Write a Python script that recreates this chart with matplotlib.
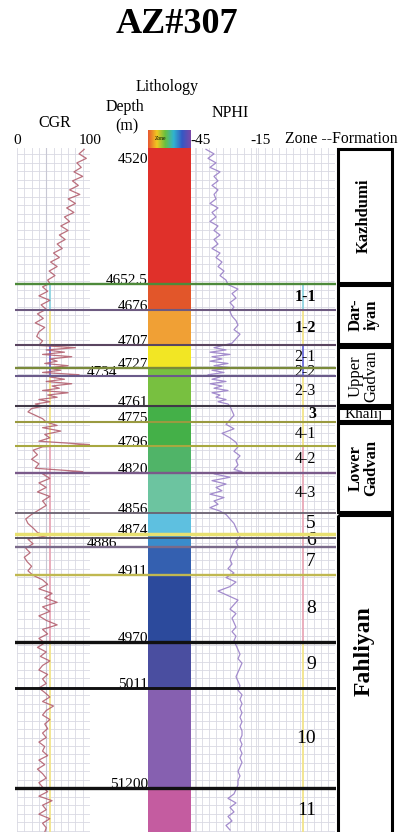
import numpy as np
import matplotlib.pyplot as plt
from matplotlib.patches import Rectangle
from matplotlib.colors import LinearSegmentedColormap
from matplotlib.ticker import MultipleLocator
from matplotlib import transforms

plt.rcParams['font.family'] = ['Liberation Serif', 'DejaVu Serif']

well_name = 'AZ#307'

# depth window shown (m)
top_depth = 4531.8
base_depth = 5138.8

# zone tops (m) and the depth text written next to each
bound_depth = [4652.5, 4676, 4707, 4727, 4734, 4761, 4775, 4796, 4820,
               4856, 4874, 4886, 4911, 4970, 5011, 5100]
bound_label = ['4652.5', '4676', '4707', '4727', '4734', '4761', '4775', '4796', '4820',
               '4856', '4874', '4886', '4911', '4970', '5011', '51200']
zone_names = ['1-1', '1-2', '2-1', '2-2', '2-3', '3', '4-1', '4-2', '4-3',
              '5', '6', '7', '8', '9', '10', '11']
bold_zones = ['1-1', '1-2', '3']

# formations
form_names = ['Kazhdumi', 'Dar-\niyan', 'Upper\nGadvan', 'Khalij', 'Lower\nGadvan', 'Fahliyan']
form_top = [4520, 4652.5, 4707, 4761, 4775, 4856]
form_base = [4652.5, 4707, 4761, 4775, 4856, 5100]

# CGR log (API)
cgr_depth = [4533, 4537, 4541, 4545, 4549, 4553, 4557, 4561, 4565, 4569, 4573, 4577, 4581, 4585,
             4589, 4593, 4597, 4601, 4605, 4609, 4613, 4617, 4621, 4625, 4629, 4633, 4637, 4641,
             4645, 4649, 4652, 4655, 4659, 4663, 4667, 4671, 4675, 4679, 4683, 4687, 4691, 4695,
             4699, 4703, 4707, 4709, 4711, 4713, 4715, 4717, 4719, 4721, 4723, 4725, 4727, 4729,
             4731, 4733, 4735, 4737, 4739, 4741, 4743, 4745, 4747, 4749, 4751, 4753, 4755, 4757,
             4759, 4761, 4763, 4766, 4769, 4772, 4775, 4778, 4780, 4783, 4786, 4789, 4792, 4795,
             4797, 4800, 4804, 4808, 4812, 4816, 4819, 4821, 4825, 4829, 4833, 4837, 4841, 4845,
             4849, 4853, 4857, 4861, 4865, 4869, 4873, 4876, 4879, 4883, 4887, 4891, 4895, 4899,
             4903, 4907, 4911, 4915, 4919, 4923, 4927, 4931, 4935, 4939, 4943, 4947, 4951, 4955,
             4959, 4963, 4967, 4971, 4975, 4979, 4983, 4987, 4991, 4995, 4999, 5003, 5007, 5011,
             5015, 5019, 5023, 5027, 5031, 5035, 5039, 5043, 5047, 5051, 5055, 5059, 5063, 5067,
             5071, 5075, 5079, 5083, 5087, 5091, 5095, 5099, 5103, 5107, 5111, 5115, 5119, 5123,
             5127, 5131, 5135, 5139]
cgr_value = [92, 85, 95, 82, 88, 78, 90, 76, 84, 72, 86, 70, 80, 68,
             78, 65, 72, 60, 70, 58, 66, 55, 62, 50, 58, 46, 55, 44,
             52, 42, 45, 35, 42, 30, 45, 33, 40, 28, 36, 25, 38, 30,
             27, 35, 30, 80, 40, 65, 35, 75, 45, 55, 38, 70, 42, 60,
             35, 85, 45, 65, 40, 75, 48, 58, 35, 70, 42, 55, 30, 45,
             25, 35, 20, 15, 25, 35, 40, 55, 35, 60, 38, 45, 30, 100,
             35, 22, 28, 20, 30, 25, 90, 35, 45, 30, 40, 28, 45, 35,
             40, 30, 20, 12, 15, 22, 28, 40, 15, 22, 12, 18, 10, 14,
             20, 15, 22, 35, 42, 30, 48, 38, 55, 35, 45, 30, 40, 55,
             35, 42, 30, 38, 28, 40, 32, 45, 35, 30, 42, 35, 40, 30,
             38, 45, 35, 50, 40, 35, 45, 38, 42, 35, 40, 30, 38, 35,
             42, 30, 38, 28, 35, 40, 30, 35, 42, 30, 48, 35, 40, 30,
             45, 35, 40, 38]

# NPHI log (track units)
nphi_depth = [4533, 4537, 4541, 4545, 4549, 4553, 4557, 4561, 4565, 4569, 4573, 4577, 4581, 4585,
              4589, 4593, 4597, 4601, 4605, 4609, 4613, 4617, 4621, 4625, 4629, 4633, 4637, 4641,
              4645, 4649, 4653, 4657, 4661, 4665, 4669, 4673, 4677, 4681, 4685, 4689, 4693, 4697,
              4701, 4705, 4709, 4711, 4713, 4715, 4717, 4719, 4721, 4723, 4725, 4727, 4729, 4731,
              4733, 4735, 4737, 4739, 4741, 4743, 4745, 4747, 4749, 4751, 4753, 4755, 4757, 4759,
              4761, 4765, 4769, 4773, 4777, 4781, 4785, 4789, 4793, 4797, 4801, 4805, 4809, 4813,
              4817, 4819, 4821, 4824, 4827, 4830, 4833, 4836, 4839, 4842, 4845, 4848, 4851, 4854,
              4857, 4861, 4865, 4869, 4873, 4877, 4881, 4885, 4889, 4893, 4897, 4901, 4905, 4909,
              4913, 4917, 4921, 4925, 4929, 4933, 4937, 4941, 4945, 4949, 4953, 4957, 4961, 4965,
              4969, 4973, 4977, 4981, 4985, 4989, 4993, 4997, 5001, 5005, 5009, 5013, 5017, 5021,
              5025, 5029, 5033, 5037, 5041, 5045, 5049, 5053, 5057, 5061, 5065, 5069, 5073, 5077,
              5081, 5085, 5089, 5093, 5097, 5101, 5105, 5109, 5113, 5117, 5121, 5125, 5129, 5133,
              5137]
nphi_value = [-40, -36, -39, -35, -38, -33, -36, -34, -37, -34, -36, -35, -38, -34,
              -37, -35, -38, -34, -36, -33, -36, -34, -37, -33, -35, -32, -34, -31,
              -33, -30, -29, -24, -27, -25, -28, -26, -28, -27, -25, -24, -26, -23,
              -25, -27, -36, -30, -38, -28, -37, -32, -38, -29, -36, -27, -37, -31,
              -39, -33, -37, -30, -38, -32, -36, -29, -37, -33, -35, -30, -34, -29,
              -28, -27, -26, -28, -30, -26, -32, -28, -25, -24, -26, -23, -25, -24,
              -26, -22, -36, -28, -37, -30, -35, -32, -38, -31, -36, -34, -38, -33,
              -30, -28, -26, -25, -24, -23, -25, -24, -26, -27, -28, -27, -29, -26,
              -30, -25, -28, -34, -29, -24, -26, -28, -25, -27, -26, -25, -27, -25,
              -26, -25, -24, -23, -24, -22, -23, -24, -25, -24, -23, -24, -22, -23,
              -22, -23, -22, -23, -22, -23, -22, -22, -23, -22, -23, -22, -23, -22,
              -23, -24, -23, -24, -24, -25, -26, -29, -25, -28, -26, -29, -27, -30,
              -28]

# cutoff marker segments drawn in the CGR and zone tracks
cut_top = [4652.5, 4676, 4707, 4734, 4796, 4970]
cut_base = [4676, 4707, 4734, 4796, 4970, 5139]

# ---- styles ----
litho_top_color = '#e0302a'
zone_colors = ['#e2562a', '#f0a035', '#f2e624', '#78c040', '#78c040', '#44b048', '#44b048',
               '#50b468', '#6cc4a0', '#5ec0e0', '#3a8ccc', '#3460b0', '#2c4a9c', '#4a4ea0',
               '#8660b0', '#c45ca0']
line_colors = ['#4d8a3a', '#6d5a80', '#5a4560', '#7a8a3a', '#6a5a8a', '#403848', '#9a9a40',
               '#a8a840', '#7a5a8a', '#6a6070', '#e8e070', '#7a6a8a', '#c0b850', '#111111',
               '#111111', '#111111']
line_widths = [1.7, 1.5, 1.5, 1.7, 1.5, 1.5, 1.5, 1.5, 1.7, 1.3, 2.5, 1.7, 1.7, 2.4, 2.1, 2.4]
cut_colors = ['#8fd4e0', '#f2e48a', '#6a6ad8', '#f2e48a', '#e8a8b8', '#f2e48a']
grid_color = '#d9d9e3'

W, H = 400, 832


def box(x0, x1, y0, y1):
    # pixel edges -> figure fractions
    return [x0 / W, 1 - y1 / H, (x1 - x0) / W, (y1 - y0) / H]


fig = plt.figure(figsize=(W / 100, H / 100), dpi=100)

ax_cgr = fig.add_axes(box(17, 90, 148, 832))
ax_lith = fig.add_axes(box(148, 191, 148, 832), sharey=ax_cgr)
ax_nphi = fig.add_axes(box(191, 335, 148, 832), sharey=ax_cgr)
ax_form = fig.add_axes(box(335, 395, 148, 832), sharey=ax_cgr)
ax_line = fig.add_axes(box(15, 336, 148, 832), sharey=ax_cgr)

ax_cgr.set_ylim(base_depth, top_depth)
ax_cgr.yaxis.set_major_locator(MultipleLocator(7.5))

for ax in (ax_cgr, ax_lith, ax_nphi, ax_form, ax_line):
    ax.tick_params(axis='y', left=False, labelleft=False)
    for s in ax.spines.values():
        s.set_visible(False)

# CGR track
ax_cgr.set_xlim(0, 100)
ax_cgr.xaxis.tick_top()
ax_cgr.set_xticks([0, 100])
ax_cgr.set_xticklabels(['0', '100'])
ax_cgr.xaxis.set_minor_locator(MultipleLocator(10))
ax_cgr.tick_params(axis='x', which='both', length=0, labelsize=11, pad=1)
ax_cgr.grid(axis='y', which='major', color=grid_color, lw=0.6)
ax_cgr.grid(axis='x', which='both', color=grid_color, lw=0.6)
ax_cgr.axvline(40, color='#c8c8d4', lw=0.8)
for t, b, c in zip(cut_top, cut_base, cut_colors):
    ax_cgr.plot([45, 45], [t, b], color=c, lw=1.3)
ax_cgr.plot(cgr_value, cgr_depth, color='#b05868', lw=0.9, alpha=0.85)

# NPHI + zone track
ax_nphi.set_xlim(-47.5, 24.5)
ax_nphi.xaxis.tick_top()
ax_nphi.set_xticks([-45, -15])
ax_nphi.set_xticklabels(['-45', '-15'])
ax_nphi.xaxis.set_minor_locator(MultipleLocator(3.5))
ax_nphi.tick_params(axis='x', which='both', length=0, labelsize=11, pad=1)
shift = transforms.ScaledTranslation(5 / 100, 0, fig.dpi_scale_trans)
for lab in ax_nphi.get_xticklabels():
    lab.set_transform(lab.get_transform() + shift)
ax_nphi.grid(axis='y', which='major', color=grid_color, lw=0.6)
ax_nphi.grid(axis='x', which='both', color=grid_color, lw=0.6)
for t, b, c in zip(cut_top, cut_base, cut_colors):
    ax_nphi.plot([8.5, 8.5], [t, b], color=c, lw=1.3)
ax_nphi.plot(nphi_value, nphi_depth, color='#9a80c8', lw=0.9, alpha=0.9)

zone_base = bound_depth[1:] + [base_depth]
for name, t, b in zip(zone_names, bound_depth, zone_base):
    big = len(name) < 3
    ax_nphi.text(15, (t + b) / 2, name, ha='right', va='center',
                 fontsize=14 if big and name not in bold_zones else 11.5,
                 fontweight='bold' if name in bold_zones else 'normal')

# lithology column
ax_lith.set_xlim(0, 1)
ax_lith.set_xticks([])
ax_lith.axhspan(top_depth, bound_depth[0], color=litho_top_color, lw=0)
for t, b, c in zip(bound_depth, zone_base, zone_colors):
    ax_lith.axhspan(t, b, color=c, lw=0)

trans = transforms.blended_transform_factory(ax_lith.transAxes, ax_lith.transData)
for d, lab in zip(bound_depth, bound_label):
    dx = -22 if lab in ('4734', '4886') else 0
    ax_lith.annotate(lab, xy=(0, d), xycoords=trans, xytext=(dx, 0),
                     textcoords='offset points', ha='right', va='baseline', fontsize=11)
ax_lith.text(0, 0.9825, '4520', transform=ax_lith.transAxes, ha='right', va='center', fontsize=11)

# boundary lines across the tracks
ax_line.axis('off')
ax_line.patch.set_alpha(0)
ax_line.set_xlim(0, 1)
for d, c, lw in zip(bound_depth, line_colors, line_widths):
    ax_line.axhline(d, color=c, lw=lw)
ax_line.axhline(4877.5, color='#504858', lw=1.3)

# formation column
ax_form.set_xlim(0, 1)
ax_form.set_xticks([])
gap = 2.2
for name, t, b in zip(form_names, form_top, form_base):
    t0 = max(t, top_depth)
    b0 = b if name != 'Fahliyan' else base_depth + 30
    ax_form.add_patch(Rectangle((0.05, t0 + gap / 2), 0.9, b0 - t0 - gap,
                                fill=False, ec='black', lw=2.2, clip_on=b0 > base_depth))
    mid = (t0 + b) / 2
    if name == 'Khalij':
        ax_form.text(0.48, mid, name, ha='center', va='center', fontsize=11)
    else:
        bold = name in ('Kazhdumi', 'Dar-\niyan', 'Lower\nGadvan', 'Fahliyan')
        size = 17 if name == 'Fahliyan' else 12
        ax_form.text(0.48, mid, name, ha='center', va='center', rotation=90,
                     fontsize=size, fontweight='bold' if bold else 'normal', linespacing=0.95)

# lithology legend bar
ax_bar = fig.add_axes(box(148, 191, 130, 148))
rainbow = LinearSegmentedColormap.from_list(
    'litho', ['#e85a30', '#f2c820', '#68c040', '#30b4d0', '#3458c4', '#7a48a8'])
ax_bar.imshow(np.linspace(0, 1, 64)[None, :], cmap=rainbow, aspect='auto')
ax_bar.axis('off')
ax_bar.text(0.3, 0.5, 'Zone', transform=ax_bar.transAxes, ha='center', va='center', fontsize=4)

# headers
fig.text(0.4425, 0.97, well_name, ha='center', va='center', fontsize=26, fontweight='bold')
fig.text(167 / W, 1 - 87 / H, 'Lithology', ha='center', va='center', fontsize=11.5)
fig.text(125 / W, 1 - 107 / H, 'Depth', ha='center', va='center', fontsize=11.5)
fig.text(127 / W, 1 - 126 / H, '(m)', ha='center', va='center', fontsize=11.5)
fig.text(55 / W, 1 - 123 / H, 'CGR', ha='center', va='center', fontsize=11.5)
fig.text(230 / W, 1 - 113 / H, 'NPHI', ha='center', va='center', fontsize=11.5)
fig.text(285 / W, 1 - 139 / H, 'Zone --Formation', ha='left', va='center', fontsize=11.3)

fig.savefig('out.png', dpi=100)
